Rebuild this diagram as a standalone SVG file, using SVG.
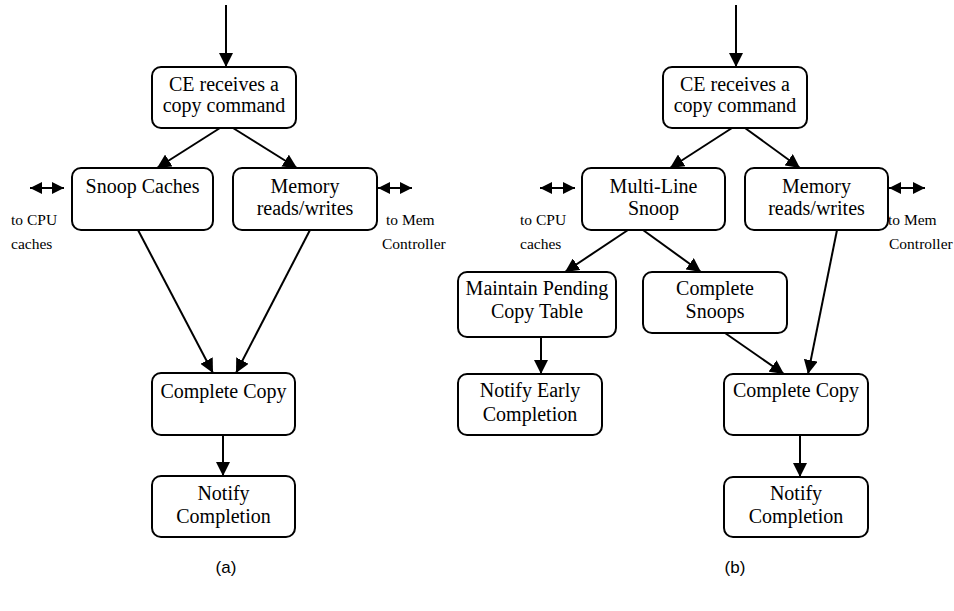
<svg xmlns="http://www.w3.org/2000/svg" width="954" height="611" viewBox="0 0 954 611">
<defs>
<marker id="ah" markerUnits="userSpaceOnUse" markerWidth="14" markerHeight="14" viewBox="0 0 14 14" refX="14" refY="7" orient="auto">
<path d="M0,0 L14,7 L0,14 Z" fill="#000"/>
</marker>
<marker id="sh" markerUnits="userSpaceOnUse" markerWidth="12" markerHeight="12" viewBox="0 0 12 12" refX="12" refY="6" orient="auto-start-reverse">
<path d="M0,0 L12,6 L0,12 Z" fill="#000"/>
</marker>
</defs>
<style>
.box{fill:#fff;stroke:#000;stroke-width:2}
.t{font-family:"Liberation Serif","Times New Roman",serif;font-size:20px;text-anchor:middle;fill:#000}
.s{font-family:"Liberation Serif","Times New Roman",serif;font-size:15.5px;fill:#000}
.c{stroke:#000;stroke-width:2;fill:none;marker-end:url(#ah)}
.d{stroke:#000;stroke-width:2;fill:none;marker-start:url(#sh);marker-end:url(#sh)}
.cap{font-family:"Liberation Sans",Arial,sans-serif;font-size:17px;text-anchor:middle;fill:#000}
</style>
<rect width="954" height="611" fill="#fff"/>
<g id="connectors">
<line class="c" x1="226" y1="5" x2="226" y2="67"/>
<line class="c" x1="220" y1="128" x2="157" y2="168"/>
<line class="c" x1="233" y1="128" x2="297" y2="168"/>
<line class="c" x1="138" y1="230" x2="213" y2="373"/>
<line class="c" x1="310" y1="230" x2="236" y2="373"/>
<line class="c" x1="223" y1="435" x2="223" y2="476"/>
<line class="d" x1="30" y1="188" x2="64" y2="188"/>
<line class="d" x1="378" y1="188" x2="412" y2="188"/>
<line class="c" x1="736" y1="5" x2="736" y2="67"/>
<line class="c" x1="732" y1="128" x2="670" y2="168"/>
<line class="c" x1="745" y1="128" x2="800" y2="168"/>
<line class="c" x1="628" y1="230" x2="565" y2="272"/>
<line class="c" x1="643" y1="230" x2="701" y2="272"/>
<line class="c" x1="837" y1="230" x2="808" y2="374"/>
<line class="c" x1="725" y1="333" x2="784" y2="374"/>
<line class="c" x1="541" y1="337" x2="541" y2="374"/>
<line class="c" x1="800" y1="435" x2="800" y2="477"/>
<line class="d" x1="540" y1="188" x2="575" y2="188"/>
<line class="d" x1="889" y1="188" x2="925" y2="188"/>
</g>
<g id="a-ce"><rect class="box" x="152" y="67" width="144" height="61" rx="9"/><text class="t" x="224" y="91">CE receives a</text><text class="t" x="224" y="112">copy command</text></g>
<g id="a-snoop"><rect class="box" x="72" y="168" width="141" height="62" rx="9"/><text class="t" x="142.5" y="193">Snoop Caches</text></g>
<g id="a-mem"><rect class="box" x="233" y="168" width="144" height="62" rx="9"/><text class="t" x="305" y="193">Memory</text><text class="t" x="305" y="215">reads/writes</text></g>
<g id="a-complete"><rect class="box" x="152" y="373" width="143" height="62" rx="9"/><text class="t" x="223.5" y="398">Complete Copy</text></g>
<g id="a-notify"><rect class="box" x="152" y="476" width="143" height="61" rx="9"/><text class="t" x="223.5" y="500">Notify</text><text class="t" x="223.5" y="523">Completion</text></g>
<g id="a-labels"><text class="s" x="11" y="225">to CPU</text><text class="s" x="11" y="249">caches</text><text class="s" x="386" y="225">to Mem</text><text class="s" x="382" y="249">Controller</text></g>
<g id="b-ce"><rect class="box" x="663" y="67" width="144" height="61" rx="9"/><text class="t" x="735" y="91">CE receives a</text><text class="t" x="735" y="112">copy command</text></g>
<g id="b-snoop"><rect class="box" x="582" y="168" width="143" height="62" rx="9"/><text class="t" x="653.5" y="193">Multi-Line</text><text class="t" x="653.5" y="215">Snoop</text></g>
<g id="b-mem"><rect class="box" x="745" y="168" width="143" height="62" rx="9"/><text class="t" x="816.5" y="193">Memory</text><text class="t" x="816.5" y="215">reads/writes</text></g>
<g id="b-pending"><rect class="box" x="458" y="272" width="158" height="65" rx="9"/><text class="t" x="537" y="295">Maintain Pending</text><text class="t" x="537" y="318">Copy Table</text></g>
<g id="b-snoops"><rect class="box" x="643" y="272" width="144" height="61" rx="9"/><text class="t" x="715" y="295">Complete</text><text class="t" x="715" y="318">Snoops</text></g>
<g id="b-early"><rect class="box" x="458" y="374" width="144" height="61" rx="9"/><text class="t" x="530" y="397">Notify Early</text><text class="t" x="530" y="421">Completion</text></g>
<g id="b-complete"><rect class="box" x="724" y="374" width="144" height="61" rx="9"/><text class="t" x="796" y="397">Complete Copy</text></g>
<g id="b-notify"><rect class="box" x="724" y="477" width="144" height="60" rx="9"/><text class="t" x="796" y="500">Notify</text><text class="t" x="796" y="523">Completion</text></g>
<g id="b-labels"><text class="s" x="520" y="225">to CPU</text><text class="s" x="520" y="249">caches</text><text class="s" x="888" y="225">to Mem</text><text class="s" x="889" y="249">Controller</text></g>
<text class="cap" x="226" y="573">(a)</text>
<text class="cap" x="735" y="573">(b)</text>
</svg>
